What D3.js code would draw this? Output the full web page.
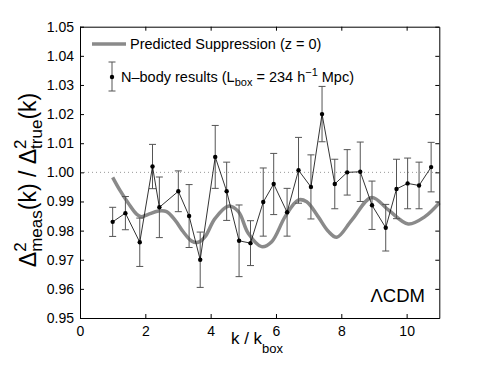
<!DOCTYPE html>
<html>
<head>
<meta charset="utf-8">
<script src="https://cdn.jsdelivr.net/npm/d3@7"></script>
<style>
  body { margin: 0; background: #fff; }
  svg { display: block; font-family: "Liberation Sans", Arial, Helvetica, sans-serif; }
</style>
</head>
<body>
<div id="chart"></div>
<script>
// N-body measurements (k / k_box, ratio, 1-sigma error)
const kVals = [1.00, 1.39, 1.83, 2.22, 2.43, 3.01, 3.34, 3.68, 4.14, 4.49, 4.87, 5.22, 5.61, 5.93,
    6.34, 6.69, 7.07, 7.41, 7.80, 8.18, 8.58, 8.94, 9.36, 9.69, 10.03, 10.38, 10.75];
const ratioVals = [0.983, 0.986, 0.976, 1.002, 0.988, 0.9935, 0.985, 0.970, 1.0053, 0.9935, 0.9765, 0.9757, 0.9898, 0.996,
    0.9863, 1.0007, 0.995, 1.020, 0.996, 1.000, 1.0002, 0.9887, 0.981, 0.9943, 0.9962, 0.9955, 1.0018];
const errVals = [0.005, 0.0057, 0.0083, 0.0076, 0.0104, 0.007, 0.0108, 0.0095, 0.0108, 0.010, 0.0123, 0.0077, 0.0117, 0.0105,
    0.0082, 0.0113, 0.011, 0.0095, 0.0085, 0.0078, 0.0102, 0.0083, 0.008, 0.0102, 0.0087, 0.008, 0.0085];

// predicted suppression curve
const predK = [1.00, 1.22, 1.48, 1.74, 1.89, 2.09, 2.40, 2.65, 2.91, 3.16, 3.42, 3.62, 3.83, 4.13, 4.54, 4.85,
    5.15, 5.56, 5.87, 6.28, 6.68, 6.94, 7.29, 7.60, 7.86, 8.32, 8.93, 9.44, 10.05, 10.56, 11.0];
const predRatio = [0.9983, 0.9939, 0.9894, 0.9856, 0.9848, 0.9856, 0.9867, 0.9865, 0.9836, 0.9796, 0.9764, 0.9760, 0.9779,
    0.9841, 0.9884, 0.9865, 0.9791, 0.9745, 0.9762, 0.9848, 0.9905, 0.9899, 0.9848, 0.9798, 0.9777, 0.9836, 0.9914,
    0.9871, 0.9823, 0.9848, 0.9895];

const xTicks = [0, 2, 4, 6, 8, 10];
const yTicks = [0.95, 0.96, 0.97, 0.98, 0.99, 1.00, 1.01, 1.02, 1.03, 1.04, 1.05];

const W = 485, H = 365;
const m = { left: 80, top: 26.7, right: 439.3, bottom: 318 };

const svg = d3.select('#chart').append('svg')
    .attr('width', W)
    .attr('height', H);

const x = d3.scaleLinear().domain([0, 11]).range([m.left, m.right]);
const y = d3.scaleLinear().domain([0.95, 1.05]).range([m.bottom, m.top]);

// reference line at 1
svg.append('line')
    .attr('x1', x(0)).attr('x2', x(11))
    .attr('y1', y(1)).attr('y2', y(1))
    .attr('stroke', '#999')
    .attr('stroke-width', 1)
    .attr('stroke-dasharray', '1,3');

// predicted curve
const curve = d3.line()
    .x((d) => x(d[0]))
    .y((d) => y(d[1]))
    .curve(d3.curveCatmullRom.alpha(0.5));

svg.append('path')
    .datum(d3.zip(predK, predRatio))
    .attr('d', curve)
    .attr('fill', 'none')
    .attr('stroke', '#8a8a8a')
    .attr('stroke-width', 3.5);

// error bars
const pts = kVals.map((k, i) => ({ k: k, r: ratioVals[i], e: errVals[i] }));
const bars = svg.append('g')
    .attr('stroke', '#555')
    .attr('stroke-width', 1);

bars.selectAll('.eb')
    .data(pts)
    .enter()
    .append('path')
    .attr('class', 'eb')
    .attr('fill', 'none')
    .attr('d', (d) => {
        const cx = x(d.k), t = y(d.r + d.e), b = y(d.r - d.e);
        return `M${cx - 3.5},${t}H${cx + 3.5}M${cx},${t}V${b}M${cx - 3.5},${b}H${cx + 3.5}`;
    });

// measurement line + markers
svg.append('path')
    .datum(pts)
    .attr('d', d3.line().x((d) => x(d.k)).y((d) => y(d.r)))
    .attr('fill', 'none')
    .attr('stroke', '#000')
    .attr('stroke-width', 0.8);

svg.selectAll('.pt')
    .data(pts)
    .enter()
    .append('circle')
    .attr('class', 'pt')
    .attr('cx', (d) => x(d.k))
    .attr('cy', (d) => y(d.r))
    .attr('r', 2.2)
    .attr('fill', '#000');

// axes, MATLAB style: ticks inside on all four sides
const fmt = d3.format('.2f');
const axes = [
    { ax: d3.axisBottom(x).tickValues(xTicks).tickFormat(d3.format('d')), tr: `translate(0,${m.bottom})`, lab: true, pad: 8 },
    { ax: d3.axisTop(x).tickValues(xTicks), tr: `translate(0,${m.top})`, lab: false, pad: 6 },
    { ax: d3.axisLeft(y).tickValues(yTicks).tickFormat(fmt), tr: `translate(${m.left},0)`, lab: true, pad: 6 },
    { ax: d3.axisRight(y).tickValues(yTicks), tr: `translate(${m.right},0)`, lab: false, pad: 6 }
];
axes.forEach((a) => {
    const g = svg.append('g')
        .attr('transform', a.tr)
        .call(a.ax.tickSizeInner(-4).tickSizeOuter(0).tickPadding(a.pad));
    g.select('.domain').attr('stroke', '#000').attr('stroke-width', 1);
    g.selectAll('.tick line').attr('stroke', '#000');
    g.selectAll('.tick text')
        .attr('fill', '#000')
        .style('font-size', '14px')
        .style('font-family', '"Liberation Sans", Arial, sans-serif');
    if (!a.lab) g.selectAll('.tick text').remove();
});

// legend
const leg = svg.append('g').style('font-size', '14.5px');
leg.append('line')
    .attr('x1', 92).attr('x2', 126)
    .attr('y1', 44).attr('y2', 44)
    .attr('stroke', '#8a8a8a')
    .attr('stroke-width', 3.5);
leg.append('text')
    .attr('x', 130).attr('y', 49)
    .text('Predicted Suppression (z = 0)');

leg.append('path')
    .attr('d', 'M108.5,62H115.5M112,62V91M108.5,91H115.5')
    .attr('stroke', '#555')
    .attr('fill', 'none');
leg.append('circle').attr('cx', 112).attr('cy', 77).attr('r', 2.2);

const t2 = leg.append('text').attr('x', 121).attr('y', 82);
t2.append('tspan').text('N\u2013body results (L');
t2.append('tspan').attr('dy', 4).style('font-size', '11px').text('box');
t2.append('tspan').attr('dy', -4).text(' = 234 h');
t2.append('tspan').attr('dy', -6).style('font-size', '11px').text('\u22121');
t2.append('tspan').attr('dy', 6).text(' Mpc)');

// model label
svg.append('text')
    .attr('x', 425).attr('y', 302)
    .attr('text-anchor', 'end')
    .style('font-size', '18.5px')
    .text('\u039BCDM');

// x label
const xl = svg.append('text')
    .attr('x', 257).attr('y', 344)
    .attr('text-anchor', 'middle')
    .style('font-size', '17px');
xl.append('tspan').text('k / k');
xl.append('tspan').attr('dy', 9).style('font-size', '13px').text('box');

// y label: Δ²_meas(k) / Δ²_true(k), super- and subscripts stacked
const yl = svg.append('text')
    .attr('transform', 'translate(36,180) rotate(-90)')
    .attr('text-anchor', 'middle')
    .style('font-size', '23px');
const supW = 0.556 * 17;
yl.append('tspan').text('\u0394');
yl.append('tspan').attr('dy', -10).style('font-size', '17px').text('2');
yl.append('tspan').attr('dx', -supW).attr('dy', 16).style('font-size', '17px').text('meas');
yl.append('tspan').attr('dy', -6).text('(k) / \u0394');
yl.append('tspan').attr('dy', -10).style('font-size', '17px').text('2');
yl.append('tspan').attr('dx', -supW).attr('dy', 16).style('font-size', '17px').text('true');
yl.append('tspan').attr('dy', -6).text('(k)');
</script>
</body>
</html>
